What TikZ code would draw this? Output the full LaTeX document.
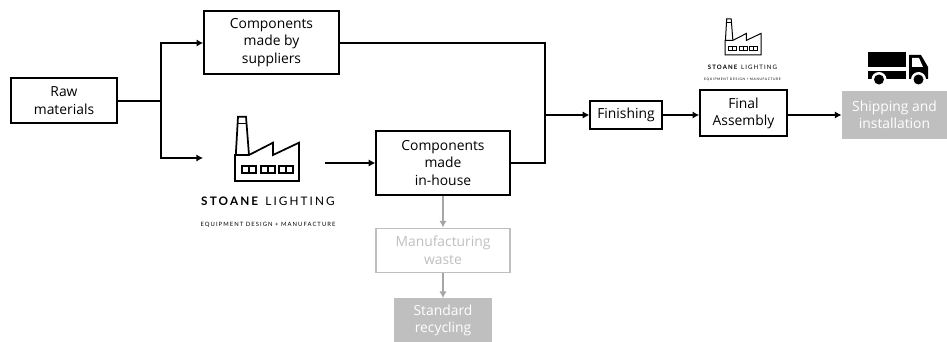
\documentclass[tikz,border=0pt]{standalone}
\usepackage{fontspec}
\setmainfont{Open Sans}
\newfontfamily\logofont[LetterSpace=18]{Lato}
\usetikzlibrary{arrows.meta}
\definecolor{fadegray}{HTML}{BFBFBF}
\definecolor{linegray}{HTML}{A6A6A6}
\tikzset{
  font={\fontsize{10.4pt}{13.2pt}\selectfont},
  box/.style = {draw, line width=1.5pt, align=center, inner sep=0pt},
  fadebox/.style = {box, draw=fadegray, line width=1.4pt, text=fadegray},
  solidbox/.style = {box, draw=fadegray, fill=fadegray, text=white},
  link/.style = {->, line width=1.2pt},
  fadelink/.style = {line width=1.4pt, draw=linegray, -{Latex[length=5pt,width=5.5pt,fill=linegray]}},
  logoline/.style = {line width=1.3pt},
  factory/.pic = {
    \draw[logoline, line join=miter] (0,0) -- (0,26) -- (14,26) -- (38,38.3) -- (38,26) -- (64,38.3) -- (64,0) -- cycle;
    \draw[logoline] (0.8,26) -- (3,64.3) -- (11,64.3) -- (14,26);
    \draw[logoline] (2.4,57.5) -- (11.5,57.5);
    \foreach \winx in {6.7,25.7,44.3} {
      \draw[logoline] (\winx,7.7) rectangle ++(14,7.3);
      \draw[logoline] (\winx+7,7.7) -- ++(0,7.3);
    }
  },
  lorry/.pic = {
    \fill (868,52) rectangle (906,67);
    \fill (868,71) rectangle (906,79);
    \fill (909,55) -- (921,55) -- (928,67) -- (928,79) -- (909,79) -- cycle;
    \fill[white] (912,58) -- (919,58) -- (923,67) -- (912,67) -- cycle;
    \foreach \wheelx in {879,918.5} {
      \fill[white] (\wheelx,79.5) circle (7.5);
      \fill (\wheelx,79.5) circle (5);
    }
  }
}
\begin{document}
\begin{tikzpicture}[x=0.75pt, y=-0.75pt, >={Latex[length=5pt,width=5.5pt]}]
\useasboundingbox (0,0) rectangle (947,342);

\node[box, minimum width=79pt, minimum height=33.5pt] (raw) at (64,100.5) {Raw\\materials};
\node[box, minimum width=101pt, minimum height=47pt] (suppliers) at (271.5,42.5) {Components\\made by\\suppliers};
\node[box, minimum width=100pt, minimum height=47.5pt] (inhouse) at (443,163) {Components\\made\\in-house};
\node[fadebox, minimum width=100pt, minimum height=33pt] (waste) at (443,250.5) {Manufacturing\\waste};
\node[solidbox, minimum width=72pt, minimum height=32pt] (recycling) at (443,320.5) {Standard\\recycling};
\node[box, minimum width=53.5pt, minimum height=21pt] (finishing) at (626,115) {Finishing};
\node[box, minimum width=65pt, minimum height=34.5pt] (assembly) at (743.5,113.5) {Final\\Assembly};
\node[solidbox, minimum width=78pt, minimum height=34pt] (shipping) at (894.5,115) {Shipping and\\installation};

% logos
\pic[yscale=-1] at (235,181) {factory};
\pic[xscale=0.5625, yscale=-0.5625, logoline/.style={line width=0.75pt}] at (725,55) {factory};
\node[font={\fontsize{8.8pt}{9pt}\logofont}] (name) at (268,201) {\textbf{STOANE} LIGHTING};
\node[font={\fontsize{4.4pt}{5pt}\logofont}] (tag) at (268,225) {EQUIPMENT DESIGN + MANUFACTURE};
\node[font={\fontsize{4.55pt}{5pt}\logofont}] (smallname) at (742.5,67) {\textbf{STOANE} LIGHTING};
\node[font={\fontsize{2.5pt}{3pt}\logofont}] (smalltag) at (742.5,80) {EQUIPMENT DESIGN + MANUFACTURE};
\pic {lorry};

\coordinate (split) at (161,101);
\coordinate (logoin) at (203,158);
\coordinate (logoout) at (325,163);
\coordinate (merge) at (545,115);

\draw[line width=1.2pt] (raw.east |- split) -- (split);
\draw[link] (split) |- (suppliers.west |- 0,43);
\draw[link] (split) |- (logoin);
\draw[link] (logoout) -- (inhouse);
\draw[line width=1.2pt] (suppliers.east |- 0,43) -| (merge);
\draw[line width=1.2pt] (inhouse) -| (merge);
\draw[link] (merge) -- (finishing);
\draw[link] (finishing) -- (assembly.west |- finishing);
\draw[link] (assembly.east |- shipping) -- (shipping);
\draw[fadelink] (inhouse) -- (waste);
\draw[fadelink] (waste) -- (recycling);
\end{tikzpicture}
\end{document}
